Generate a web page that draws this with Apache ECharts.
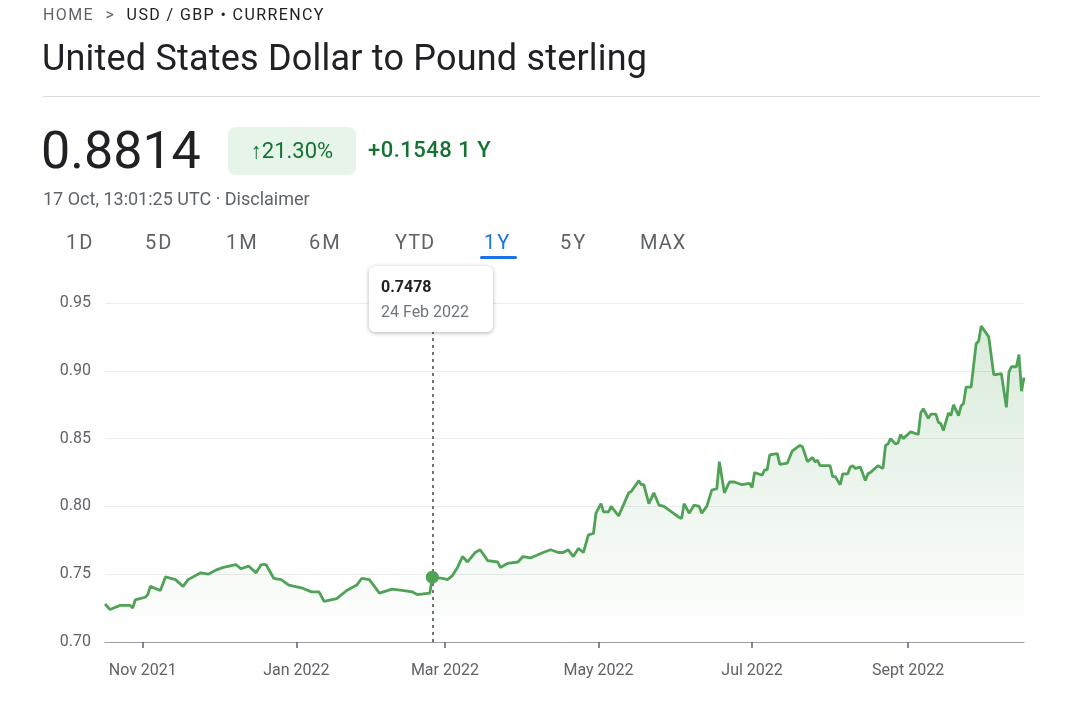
<!DOCTYPE html>
<html><head><meta charset="utf-8">
<script src="https://cdn.jsdelivr.net/npm/echarts@6/dist/echarts.min.js"></script>
<style>
body{margin:0;width:1068px;height:707px;background:#fff;font-family:Roboto,"Open Sans",sans-serif;overflow:hidden;position:relative}
#c{position:absolute;left:0;top:0;width:1068px;height:707px}
.a{position:absolute;white-space:nowrap}
</style></head><body>
<div id="c"></div>
<div class="a" style="left:43px;top:5px;font-size:16px;color:#5f6368;letter-spacing:1.4px">HOME <span style="margin:0 6px">&gt;</span> <span style="color:#202124">USD / GBP • CURRENCY</span></div>
<div class="a" style="left:42px;top:37px;font-size:36px;color:#202124;letter-spacing:0.2px">United States Dollar to Pound sterling</div>
<div class="a" style="left:43px;top:96px;width:997px;height:1px;background:#dadce0"></div>
<div class="a" style="left:41px;top:120px;font-size:52px;color:#202124">0.8814</div>
<div class="a" style="left:228px;top:127px;width:128px;height:48px;border-radius:8px;background:#e6f4ea;color:#137333;font-size:22px;line-height:48px;text-align:center">↑21.30%</div>
<div class="a" style="left:368px;top:137px;font-size:22px;color:#137333;font-weight:500;letter-spacing:0.5px">+0.1548 1 Y</div>
<div class="a" style="left:43px;top:188px;font-size:18px;color:#5f6368">17 Oct, 13:01:25 UTC · Disclaimer</div>
<div class="a" style="left:66px;top:230px;font-size:20px;color:#5f6368;letter-spacing:2px">1D</div>
<div class="a" style="left:145px;top:230px;font-size:20px;color:#5f6368;letter-spacing:2px">5D</div>
<div class="a" style="left:226px;top:230px;font-size:20px;color:#5f6368;letter-spacing:2px">1M</div>
<div class="a" style="left:309px;top:230px;font-size:20px;color:#5f6368;letter-spacing:2px">6M</div>
<div class="a" style="left:395px;top:230px;font-size:20px;color:#5f6368;letter-spacing:1px">YTD</div>
<div class="a" style="left:484px;top:230px;font-size:20px;color:#1a73e8;letter-spacing:2px">1Y</div>
<div class="a" style="left:480px;top:256px;width:37px;height:3px;border-radius:2px;background:#1a73e8"></div>
<div class="a" style="left:560px;top:230px;font-size:20px;color:#5f6368;letter-spacing:2px">5Y</div>
<div class="a" style="left:640px;top:230px;font-size:20px;color:#5f6368;letter-spacing:1px">MAX</div>
<div class="a" style="left:369px;top:266px;width:124px;height:66px;border-radius:6px;background:#fff;box-shadow:0 1px 4px rgba(0,0,0,0.3);z-index:5">
 <div style="position:absolute;left:12px;top:11px;font-size:16px;font-weight:bold;color:#202124">0.7478</div>
 <div style="position:absolute;left:12px;top:36px;font-size:16px;color:#70757a">24 Feb 2022</div>
</div>
<script>
// day offsets from 17 Oct 2021
const days = [0,2,6,10,11,12,16,17,18,22,24,28,31,33,38,41,44,47,52,54,57,60,62,64,67,70,73,78,82,85,87,92,96,100,102,105,109,114,118,122,124,129,130,134,136,138,140,142,144,147,149,152,156,157,160,164,166,169,174,177,180,182,184,186,188,190,192,194,195,197,198,200,201,204,208,209,212,213,214,216,218,220,222,225,228,229,230,232,234,236,237,239,241,243,244,246,248,250,253,256,257,258,261,262,263,264,267,268,271,273,276,277,279,281,282,283,284,288,289,290,292,293,295,296,297,298,300,302,303,304,307,309,310,311,312,314,315,316,317,320,323,324,325,327,328,330,331,332,333,335,336,337,339,340,341,342,344,346,347,348,351,353,356,358,359,360,362,363,364,365];
const rates = [0.728,0.724,0.727,0.727,0.725,0.731,0.733,0.735,0.741,0.738,0.748,0.746,0.741,0.746,0.751,0.750,0.753,0.755,0.757,0.754,0.756,0.751,0.757,0.757,0.747,0.746,0.742,0.740,0.737,0.737,0.730,0.732,0.738,0.742,0.747,0.746,0.736,0.739,0.738,0.737,0.735,0.736,0.7478,0.747,0.746,0.749,0.755,0.763,0.759,0.766,0.768,0.760,0.759,0.755,0.758,0.759,0.763,0.762,0.766,0.768,0.766,0.766,0.768,0.763,0.769,0.766,0.779,0.780,0.795,0.802,0.796,0.796,0.800,0.793,0.810,0.811,0.819,0.816,0.816,0.802,0.810,0.801,0.800,0.796,0.792,0.791,0.802,0.795,0.801,0.800,0.795,0.800,0.812,0.813,0.833,0.810,0.818,0.818,0.816,0.817,0.814,0.825,0.823,0.827,0.827,0.838,0.839,0.831,0.832,0.841,0.845,0.844,0.833,0.836,0.833,0.834,0.830,0.830,0.822,0.822,0.816,0.824,0.824,0.829,0.830,0.828,0.829,0.819,0.824,0.825,0.830,0.828,0.845,0.846,0.850,0.846,0.847,0.853,0.850,0.855,0.853,0.869,0.872,0.865,0.868,0.868,0.862,0.861,0.856,0.869,0.867,0.875,0.867,0.874,0.876,0.888,0.888,0.920,0.922,0.933,0.925,0.897,0.898,0.873,0.899,0.903,0.903,0.912,0.885,0.895,0.894,0.8814];
const tickDays = [15,76,135,196,257,319];
const tickLabels = ['Nov 2021','Jan 2022','Mar 2022','May 2022','Jul 2022','Sept 2022'];
const yTicks = [0.70,0.75,0.80,0.85,0.90,0.95];
const hoverDay = 130, hoverValue = 0.7478;

const data = days.map((d,i)=>[d, rates[i]]);
const ch = echarts.init(document.getElementById('c'));
ch.setOption({
  animation:false,
  grid:{left:105,right:44,top:303,bottom:65},
  xAxis:{type:'value',min:0,max:365,
    axisLine:{lineStyle:{color:'#9aa0a6'}},
    axisTick:{show:true,customValues:tickDays,length:6,lineStyle:{color:'#5f6368',width:1.5}},
    axisLabel:{customValues:tickDays,formatter:function(v){var i=tickDays.indexOf(Math.round(v));return i>=0?tickLabels[i]:'';},color:'#5f6368',fontSize:16,margin:21,fontFamily:'Roboto'},
    splitLine:{show:false}},
  yAxis:{type:'value',min:yTicks[0],max:yTicks[yTicks.length-1],interval:0.05,
    axisLabel:{formatter:function(v){return v.toFixed(2);},color:'#5f6368',fontSize:16,margin:14,fontFamily:'Roboto'},
    splitLine:{lineStyle:{color:'#ececec'}},axisLine:{show:false},axisTick:{show:false}},
  series:[{type:'line',data:data,showSymbol:false,
    lineStyle:{color:'#50a257',width:2.8},
    areaStyle:{color:new echarts.graphic.LinearGradient(0,0,0,1,[{offset:0,color:'rgba(80,162,87,0.3)'},{offset:1,color:'rgba(80,162,87,0)'}])},
    markLine:{symbol:'none',silent:true,label:{show:false},lineStyle:{color:'#70757a',type:[3,4],width:2},data:[{xAxis:hoverDay}]},
    markPoint:{symbol:'circle',symbolSize:13,itemStyle:{color:'#50a257'},label:{show:false},data:[{coord:[hoverDay,hoverValue]}]}
  }]
});
</script></body></html>
